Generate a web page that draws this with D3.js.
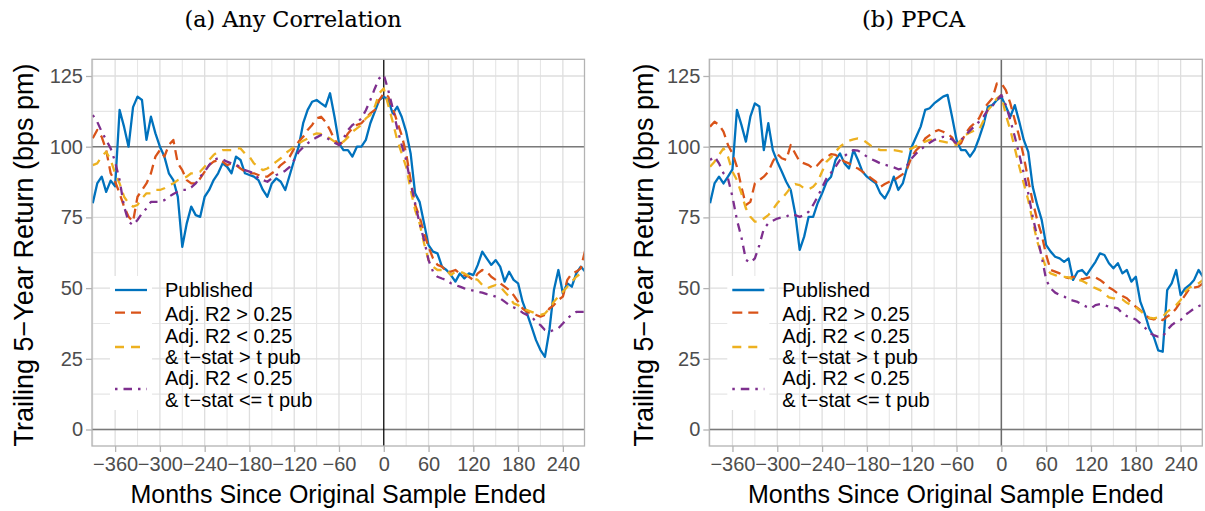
<!DOCTYPE html>
<html>
<head>
<meta charset="utf-8">
<script src="https://cdn.jsdelivr.net/npm/d3@7"></script>
<style>
  html, body { margin: 0; padding: 0; background: #ffffff; }
  svg { display: block; }
</style>
</head>
<body>
<svg id="chart" width="1205" height="511"></svg>
<script>
// ---------------- DATA ----------------
const months = [
  -390,-384,-378,-372,-366,-360,-354,-348,-342,-336,-330,
  -324,-318,-312,-306,-300,-294,-288,-282,-276,-270,-264,
  -258,-252,-246,-240,-234,-228,-222,-216,-210,-204,-198,
  -192,-186,-180,-174,-168,-162,-156,-150,-144,-138,-132,
  -126,-120,-114,-108,-102,-96,-90,-84,-78,-72,-66,
  -60,-54,-48,-42,-36,-30,-24,-18,-12,-6,0,
  6,12,18,24,30,36,42,48,54,60,66,
  72,78,84,90,96,102,108,114,120,126,132,
  138,144,150,156,162,168,174,180,186,192,198,
  204,210,216,222,228,234,240,246,252,258,264,
  270
];

const seriesNames = ["Published", "Adj. R2 > 0.25", "Adj. R2 < 0.25 & t\u2212stat > t pub", "Adj. R2 < 0.25 & t\u2212stat <= t pub"];
const legendLabels = [["Published"], ["Adj. R2 > 0.25"], ["Adj. R2 < 0.25", "& t\u2212stat > t pub"], ["Adj. R2 < 0.25", "& t\u2212stat <= t pub"]];
const panelTitles = ["(a) Any Correlation", "(b) PPCA"];
const xTickValues = [-360, -300, -240, -180, -120, -60, 0, 60, 120, 180, 240];
const yTickValues = [0, 25, 50, 75, 100, 125];
const xAxisTitle = "Months Since Original Sample Ended";
const yAxisTitle = "Trailing 5\u2212Year Return (bps pm)";

// Panel (a) Any Correlation
const anyPublished = [
  80, 87, 89.4, 84, 88, 86, 113, 107, 100, 114, 117.7,
  116.5, 102.4, 110.6, 104.7, 100, 96.5, 90.6, 88.2, 82.3, 64.6, 72.9,
  78.8, 75.8, 75.2, 82.3, 84.7, 88.2, 90.6, 94.1, 92.9, 90.6, 96.5,
  95.3, 90.6, 90, 89.4, 88.2, 84.7, 82.3, 87, 88.8, 87.6, 84.7,
  90, 95.3, 100, 108.3, 113, 115.9, 116.5, 115.3, 114.2, 118.9, 110.6,
  101.2, 98.8, 98.8, 96.5, 100, 100, 102.4, 108.3, 112.4, 116.5, 117.7,
  116.5, 111.8, 114.1, 110.6, 105.3, 97.6, 83.5, 80.5, 72.9, 65.2, 62.9,
  62.3, 57.6, 56.4, 54.6, 52.3, 55.2, 53.4, 55.2, 54.6, 58.2, 62.9,
  60.5, 58.2, 59.9, 57.6, 52.3, 55.8, 52.9, 51.7, 45.2, 41, 36.4,
  31.6, 28.1, 25.7, 35.2, 49.3, 56.4, 48.1, 51.7, 50.5, 55.2, 57.6,
  55.8
];
const anyHighR2 = [
  103, 105.9, 103.5, 98.8, 90.6, 87.6, 83.5, 78.8, 75.2, 73.5, 82.3,
  84.7, 87, 90.6, 96.5, 98.8, 96.5, 100.6, 102.4, 94.1, 91.7, 88.2,
  87, 87, 88.8, 91.2, 93.5, 94.7, 95.3, 94.7, 93.5, 94.1, 93.5,
  92.3, 91.2, 90.6, 90.6, 90, 89.4, 89.4, 90.6, 91.7, 93.5, 94.7,
  96.5, 99.4, 101.8, 103.5, 105.9, 107.7, 110, 110.6, 108.8, 105.9, 102.4,
  100.6, 101.8, 104.7, 106.5, 107.7, 108.3, 110, 111.8, 113, 116.5, 118.9,
  117.7, 113.6, 108.8, 104.1, 97.6, 88.2, 79.4, 75.2, 69.4, 64.6, 60.5,
  58.2, 57.6, 55.8, 55.8, 56.4, 55.2, 54.6, 54, 52.9, 55.2, 56.4,
  55.8, 54, 52.9, 51.7, 50.5, 49.3, 47.5, 45.2, 42.8, 41.6, 41,
  40.5, 39.9, 40.5, 42.8, 44, 45.8, 47, 52.9, 55.2, 55.8, 57,
  63.5
];
const anyLowR2HighT = [
  93.5, 94.1, 96.5, 98.2, 95.3, 90.6, 87, 82.3, 80, 78.8, 79.4,
  81.7, 83.5, 83.5, 84.7, 84.7, 85.3, 86.4, 87, 88.2, 88.8, 89.4,
  90.6, 90.6, 91.2, 92.9, 95.3, 97.1, 98.2, 98.8, 98.8, 98.8, 99.4,
  99.4, 97.6, 96.5, 94.1, 92.9, 91.7, 92.3, 93.5, 94.7, 95.9, 97.6,
  98.8, 100, 101.2, 102.1, 102.9, 104.1, 104.7, 104.5, 103.8, 102.9, 101.8,
  101.2, 101.8, 103.3, 105.3, 106.5, 107.7, 110, 111.2, 114.2, 118.9, 120.6,
  114.7, 108.8, 102.4, 97.6, 92.9, 84.7, 77.6, 72.9, 65.8, 59.9, 57.6,
  56.4, 56.4, 56.4, 54.6, 55.8, 55.8, 55.2, 54.3, 53.4, 52.9, 51.1,
  49.9, 50.5, 51.1, 50.5, 48.7, 47, 44.6, 44, 42.8, 42.2, 41.6,
  41, 40.5, 41, 42.8, 45.2, 47, 48.7, 50.5, 52.3, 54, 55.2,
  56.4
];
const anyLowR2LowT = [
  111.2, 108.8, 105.3, 102.4, 99.4, 94.7, 88.2, 78.8, 73.5, 72.3, 74.1,
  76.4, 78.2, 80.5, 80.5, 80.5, 81.1, 82.3, 83.3, 84.1, 84.7, 84.7,
  85.6, 87, 89.4, 91.2, 93.5, 95.3, 95.9, 95.5, 94.7, 94.1, 93.5,
  92.9, 91.7, 91.2, 90.6, 88.8, 88.2, 87.6, 88.8, 90, 90.6, 91.5,
  92.9, 95.3, 98.2, 99.8, 101.2, 102.4, 103.3, 104.1, 103.3, 102.4, 101.4,
  100.6, 102.9, 105.9, 107.7, 108.5, 110, 112.9, 116.5, 120.6, 124.2, 125.4,
  120, 113.6, 106.5, 100.6, 95.3, 87, 80, 72.9, 67, 59.9, 55.8,
  54, 53.4, 52.9, 51.7, 51.1, 50.5, 49.9, 49.5, 49.1, 48.7, 48.4,
  47.9, 47.5, 47, 46.4, 45.2, 44, 43.2, 42.5, 41.3, 40.5, 39.9,
  38.1, 36.9, 35.2, 34.6, 35.2, 35.8, 37.5, 39.3, 40.5, 41.6, 41.6,
  41.6
];

// Panel (b) PPCA
const ppcaPublished = [
  80, 87, 89.4, 87, 89.4, 92, 113, 107.7, 101.8, 110.6, 115.3,
  114.2, 98.8, 108.3, 98.8, 94.7, 91.2, 87.6, 84.7, 76.4, 63.5, 68.2,
  75.2, 75.2, 80, 83.5, 87.6, 89.4, 95.3, 97.6, 94.1, 92.3, 98.8,
  95.3, 91.2, 89.4, 88.2, 87, 83.5, 81.7, 84.7, 89.4, 84.7, 87,
  92.9, 100, 103.5, 107.1, 113, 113.6, 115.3, 116.5, 117.7, 118.3, 110.6,
  102.4, 98.8, 98.8, 96.5, 98.8, 102.9, 107.7, 114.2, 114.7, 116.5, 117.7,
  114.2, 110.6, 114.7, 108.8, 102.4, 98.2, 85.8, 79.4, 74.1, 65.2, 62.9,
  61.1, 60.5, 59.3, 60.5, 52.9, 55.8, 56.4, 54.6, 57, 59.3, 62.3,
  61.7, 58.8, 57, 58.8, 55.2, 56.4, 52.3, 54, 45.2, 41, 35.7,
  32.8, 28, 27.5, 49.3, 51.7, 56.4, 47.5, 49.9, 51.1, 52.9, 56.4,
  54
];
const ppcaHighR2 = [
  107.1, 108.8, 107.7, 105.3, 100.6, 97.6, 92.9, 85.8, 79.4, 80.5, 87,
  88.2, 89.4, 91.2, 94.7, 97.4, 95.9, 95.3, 100.6, 97.6, 94.7, 94.1,
  93.5, 92.3, 93.5, 95.3, 96.2, 97.4, 97.1, 95.9, 94.7, 94.1, 92.9,
  92.3, 91.2, 90, 88.8, 87.6, 85.8, 86.8, 87.6, 88.2, 89.2, 90.3,
  92.3, 96.5, 98.8, 100.2, 102.9, 104.1, 105.3, 105.9, 105.3, 104.5, 103.3,
  100.2, 101.2, 104.7, 106.8, 108.3, 110, 113.2, 115.3, 117.1, 122.4, 122.4,
  120, 115.3, 109.4, 103.5, 96.5, 88.2, 80.5, 74.1, 68.8, 61.7, 56.4,
  55.8, 55.2, 54, 53.5, 54, 53.8, 53.1, 53.5, 54, 53.8, 52.9,
  51.7, 50.2, 49.3, 48.1, 47.2, 46.4, 44.8, 43.4, 42.2, 40.8, 39.3,
  38.9, 39.3, 38.7, 39.9, 41, 42.8, 45.2, 47.5, 49.9, 50.2, 50.5,
  51.7
];
const ppcaLowR2HighT = [
  92.9, 94.7, 97.1, 99.4, 96.5, 91.2, 88.2, 83.5, 78.2, 75.2, 73.5,
  73.5, 74.6, 75.8, 77.8, 80, 81.7, 83.5, 85.6, 86.8, 86.4, 85.3,
  84.9, 85.8, 87.6, 91.2, 94.7, 96.2, 98.2, 100, 101.2, 102.1, 102.6,
  102.9, 102.6, 101.4, 100.2, 99.4, 98.8, 98.8, 98.8, 98.8, 98.5, 98.2,
  98.8, 99.4, 100.2, 101.2, 101.8, 102.4, 102.4, 102.1, 101.8, 101.4, 100.9,
  100.6, 102.4, 104.1, 105, 105.7, 105.9, 109.2, 113, 114.7, 117.1, 118.3,
  111.2, 105.9, 99.4, 92.9, 87, 81.1, 73.5, 66.5, 61.7, 57, 55.2,
  54.6, 54, 54, 53.8, 53.1, 52.9, 52.6, 51.7, 50.7, 50, 49.3,
  48.1, 46.7, 46.4, 46.4, 46, 44.8, 44, 43.2, 42, 40.5, 39.6,
  39.3, 39.6, 39.9, 41.6, 42.8, 44, 45.8, 48.7, 50.2, 50.9, 51.7,
  52.9
];
const ppcaLowR2LowT = [
  95.3, 96.5, 94.1, 90.6, 88.8, 82.3, 74.1, 68, 60, 59, 60.5,
  65.2, 71, 72.9, 73.8, 74.6, 75, 75.2, 76.2, 75.8, 75.2, 75.8,
  77, 79.4, 82.3, 85.6, 88.8, 90.8, 92.9, 95.3, 96.7, 97.9, 98.8,
  98.6, 97.6, 96.5, 95.6, 94.9, 94.1, 93.6, 93.2, 92.7, 92, 92.3,
  93.5, 95.9, 97.6, 99.1, 100.2, 101.4, 102.4, 102.9, 103.5, 103.3, 102.6,
  101.2, 102.4, 104.1, 105.7, 107.3, 108.8, 110.6, 113, 114.4, 116.5, 118.3,
  114.7, 109.4, 103.5, 97.1, 90.6, 83.5, 75.2, 68.2, 61.1, 52.9, 49.9,
  48.4, 47.6, 47, 46, 45.6, 45.1, 44.2, 43.4, 42.8, 44, 44.3,
  44, 43.4, 43.2, 42.8, 41, 40.1, 39.6, 38.9, 37.5, 36.1, 34.2,
  33.4, 32.8, 32.8, 35.2, 36.9, 38.1, 38.7, 40.5, 41.6, 42.8, 43.6,
  44.3
];

// ---------------- STYLE ----------------
const colors = ["#0072BD", "#D95319", "#EDB120", "#7E2F8E"];
const dashes = [null, "10,6", "9,7", "2.5,6,8.5,6"];
const lineWidth = 2.3;

const svg = d3.select("#chart");
svg.append("rect").attr("width", 1205).attr("height", 511).attr("fill", "#ffffff");

const panelTop = 59.3, panelBottom = 446;
const yScale = d3.scaleLinear().domain([-5.83, 130.9]).range([panelBottom, panelTop]);
const fmt = d => d < 0 ? "\u2212" + Math.abs(d) : String(d);

const panels = [
  { x0: 92, x1: 584.5, title: panelTitles[0], titleX: 293, titleLen: 217, zeroColor: "#000000", zeroWidth: 1.2,
    data: [anyPublished, anyHighR2, anyLowR2HighT, anyLowR2LowT], yLabelX: 33 },
  { x0: 709.3, x1: 1202.3, title: panelTitles[1], titleX: 913.5, titleLen: 103, zeroColor: "#6b6b6b", zeroWidth: 1.5,
    data: [ppcaPublished, ppcaHighR2, ppcaLowR2HighT, ppcaLowR2LowT], yLabelX: 653 }
];

panels.forEach((p, pi) => {
  const g = svg.append("g");
  const xScale = d3.scaleLinear().domain([-391, 269]).range([p.x0, p.x1]);
  const clipId = "clip" + pi;
  svg.append("clipPath").attr("id", clipId).append("rect")
    .attr("x", p.x0).attr("y", panelTop).attr("width", p.x1 - p.x0).attr("height", panelBottom - panelTop);

  // grid: minor
  const xMinor = xTickValues.map(v => v - 30).concat([270]);
  const yMinor = yTickValues.map(v => v + 12.5);
  const grid = g.append("g").attr("clip-path", `url(#${clipId})`);
  grid.selectAll(".vmin").data(xMinor).join("line")
    .attr("x1", d => xScale(d)).attr("x2", d => xScale(d))
    .attr("y1", panelTop).attr("y2", panelBottom)
    .attr("stroke", "#e6e6e6").attr("stroke-width", 1.1);
  grid.selectAll(".hmin").data(yMinor).join("line")
    .attr("x1", p.x0).attr("x2", p.x1)
    .attr("y1", d => yScale(d)).attr("y2", d => yScale(d))
    .attr("stroke", "#e6e6e6").attr("stroke-width", 1.1);
  grid.selectAll(".vmaj").data(xTickValues).join("line")
    .attr("x1", d => xScale(d)).attr("x2", d => xScale(d))
    .attr("y1", panelTop).attr("y2", panelBottom)
    .attr("stroke", "#dedede").attr("stroke-width", 1.3);
  grid.selectAll(".hmaj").data(yTickValues).join("line")
    .attr("x1", p.x0).attr("x2", p.x1)
    .attr("y1", d => yScale(d)).attr("y2", d => yScale(d))
    .attr("stroke", "#dedede").attr("stroke-width", 1.3);

  // reference lines
  [100, 0].forEach(v => {
    g.append("line").attr("x1", p.x0).attr("x2", p.x1)
      .attr("y1", yScale(v)).attr("y2", yScale(v))
      .attr("stroke", "#7a7a7a").attr("stroke-width", 1.5);
  });
  g.append("line").attr("x1", xScale(0)).attr("x2", xScale(0))
    .attr("y1", panelTop).attr("y2", panelBottom)
    .attr("stroke", p.zeroColor).attr("stroke-width", p.zeroWidth);

  // legend key background
  const keyX = p.x0 + 18;
  g.append("rect").attr("x", keyX).attr("y", 276).attr("width", 42).attr("height", 134).attr("fill", "#ffffff");

  // lines
  const lineGen = d3.line().x((d, i) => xScale(months[i])).y(d => yScale(d));
  const lg = g.append("g").attr("clip-path", `url(#${clipId})`);
  p.data.forEach((arr, si) => {
    lg.append("path").datum(arr)
      .attr("d", lineGen)
      .attr("fill", "none")
      .attr("stroke", colors[si])
      .attr("stroke-width", lineWidth)
      .attr("stroke-linejoin", "round")
      .attr("stroke-dasharray", dashes[si]);
  });

  // border
  g.append("rect").attr("x", p.x0).attr("y", panelTop)
    .attr("width", p.x1 - p.x0).attr("height", panelBottom - panelTop)
    .attr("fill", "none").attr("stroke", "#b3b3b3").attr("stroke-width", 1.3);

  // axes
  const xAxis = d3.axisBottom(xScale).tickValues(xTickValues).tickFormat(fmt).tickSize(6).tickPadding(5);
  const xa = g.append("g").attr("transform", `translate(0,${panelBottom})`).call(xAxis);
  xa.select(".domain").remove();
  xa.selectAll(".tick line").attr("stroke", "#b3b3b3").attr("stroke-width", 1.3);
  xa.selectAll(".tick text").attr("fill", "#4d4d4d").attr("font-size", 20)
    .attr("font-family", "'Liberation Sans', Arial, sans-serif");

  const yAxis = d3.axisLeft(yScale).tickValues(yTickValues).tickSize(6).tickPadding(3);
  const ya = g.append("g").attr("transform", `translate(${p.x0},0)`).call(yAxis);
  ya.select(".domain").remove();
  ya.selectAll(".tick line").attr("stroke", "#b3b3b3").attr("stroke-width", 1.3);
  ya.selectAll(".tick text").attr("fill", "#4d4d4d").attr("font-size", 20)
    .attr("font-family", "'Liberation Sans', Arial, sans-serif");

  // axis titles
  g.append("text").attr("x", (p.x0 + p.x1) / 2).attr("y", 503)
    .attr("text-anchor", "middle").attr("font-size", 25)
    .attr("font-family", "'Liberation Sans', Arial, sans-serif").attr("fill", "#000")
    .text(xAxisTitle);
  g.append("text").attr("transform", `translate(${p.yLabelX},255) rotate(-90)`)
    .attr("text-anchor", "middle").attr("font-size", 27)
    .attr("font-family", "'Liberation Sans', Arial, sans-serif").attr("fill", "#000")
    .text(yAxisTitle);

  // panel title
  g.append("text").attr("x", p.titleX).attr("y", 27)
    .attr("text-anchor", "middle").attr("font-size", 22.5)
    .attr("font-family", "'DejaVu Serif', serif").attr("fill", "#000")
    .attr("stroke", "#000").attr("stroke-width", 0.12)
    .attr("textLength", p.titleLen).attr("lengthAdjust", "spacingAndGlyphs")
    .text(p.title);

  // legend
  const keyYs = [290, 312.7, 347, 389];
  const textYs = [[297.3], [320.7], [342.7, 364.3], [385, 407.3]];
  legendLabels.forEach((labels, si) => {
    g.append("line").attr("x1", keyX + 5).attr("x2", keyX + 37)
      .attr("y1", keyYs[si]).attr("y2", keyYs[si])
      .attr("stroke", colors[si]).attr("stroke-width", lineWidth)
      .attr("stroke-dasharray", dashes[si]);
    labels.forEach((t, li) => {
      g.append("text").attr("x", p.x0 + 73).attr("y", textYs[si][li])
        .attr("font-size", 20).attr("font-family", "'Liberation Sans', Arial, sans-serif")
        .attr("fill", "#000").text(t);
    });
  });
});
</script>
</body>
</html>
